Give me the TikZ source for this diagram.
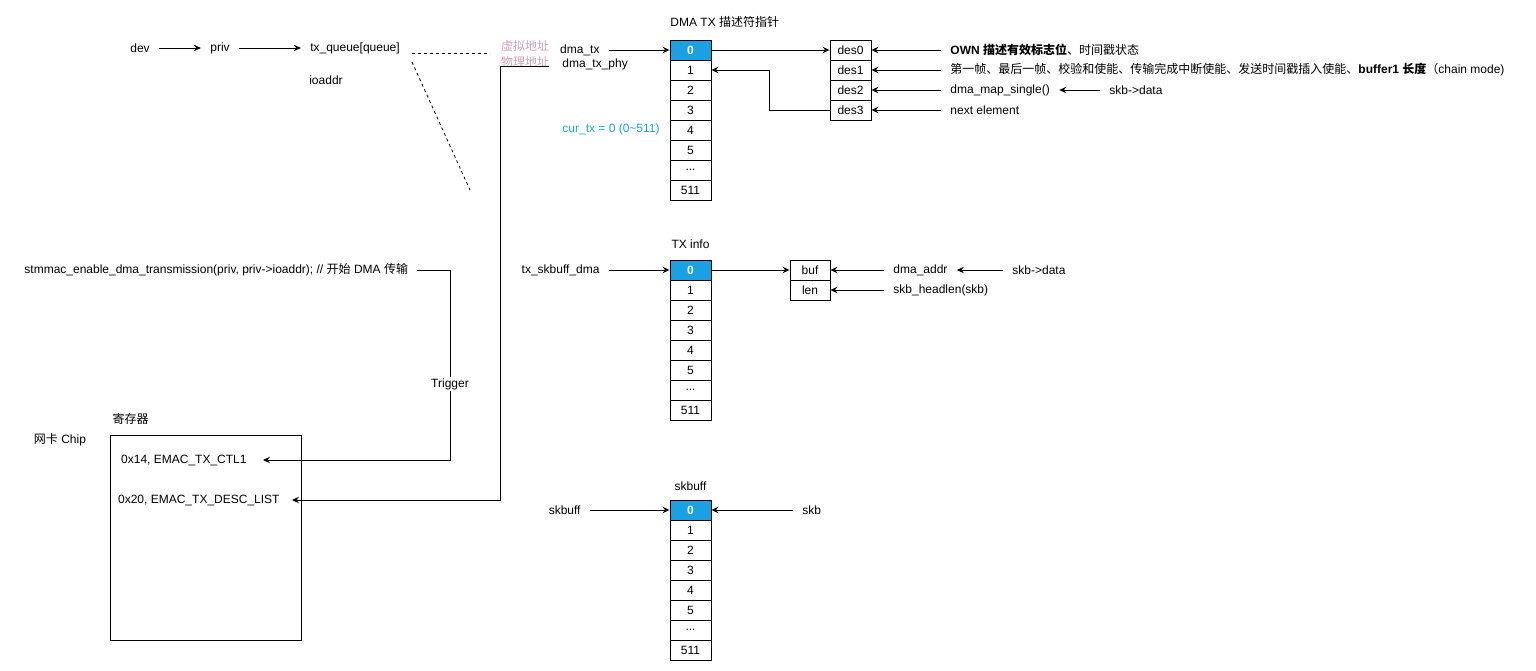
\documentclass[tikz,border=0pt]{standalone}
\usepackage{fontspec}
\setmainfont{Liberation Sans}
\newfontfamily\cjk{Noto Sans CJK SC}
\usepackage{tikz}
\usetikzlibrary{arrows.meta}
\usetikzlibrary{positioning}
\definecolor{tipblue}{HTML}{1BA1E2}
\definecolor{addrpink}{HTML}{CDA2BE}
\newcommand{\zh}[1]{{\cjk #1}}

\begin{document}
\fontsize{12}{14}\selectfont
\begin{tikzpicture}[->,>={Stealth[length=7pt,width=6.5pt,inset=2.5pt]},x=1pt,y=-1pt,node distance=20pt,on grid,line width=0.9pt,
		cell/.style={rectangle,draw=black,minimum width=41pt,minimum height=20pt,inner sep=0pt},
		head/.style={cell,fill=tipblue,text=white,font=\bfseries},
		lbl/.style={inner xsep=9pt,inner ysep=2pt},
		guide/.style={-,dash pattern=on 3pt off 3pt,line width=0.8pt}]
		\useasboundingbox (0,0) rectangle (1536,671);
		
		% pointers from the driver
		\node[lbl]    (dev) at (140,48)              {dev};
		\node[lbl]    (priv)   [right=80pt of dev]   {priv};
		\node[lbl]    (txq)    [right=135pt of priv] {tx\_queue[queue]};
		\node[lbl]    (ioaddr) [below=32pt of txq, xshift=-29pt] {ioaddr};
		\coordinate (gA) at (412,53);
		\coordinate (gB) at (490,53);
		\coordinate (gC) at (412,62);
		\coordinate (gD) at (470,190);
		
		\node[text=addrpink,inner sep=1pt] (virt) at (525,46) {\zh{虚拟地址}};
		\node[text=addrpink,inner sep=1pt] (phys) [below=16pt of virt] {\zh{物理地址}};
		\coordinate (physln) at (549,66);
		
		% DMA TX ring
		\node[anchor=west,inner sep=0pt] (dmattl) at (670,22) {DMA TX \zh{描述符指针}};
		\node[head]  (d0) at (690.5,50)   {0};
		\node[cell]  (d1)   [below=of d0] {1};
		\node[cell]  (d2)   [below=of d1] {2};
		\node[cell]  (d3)   [below=of d2] {3};
		\node[cell]  (d4)   [below=of d3] {4};
		\node[cell]  (d5)   [below=of d4] {5};
		\node[cell]  (ddot) [below=of d5] {...};
		\node[cell]  (dend) [below=of ddot] {511};
		\node[lbl,anchor=east] (dmatx)  at (609,50)  {dma\_tx};
		\node[lbl,anchor=west] (dmaphy) at (553,64)  {dma\_tx\_phy};
		\node[lbl,anchor=west,text=tipblue] (curtx) at (553,129) {cur\_tx = 0 (0\textasciitilde511)};
		
		\node[cell]  (des0) at (850.5,50)      {des0};
		\node[cell]  (des1) [below=of des0]    {des1};
		\node[cell]  (des2) [below=of des1]    {des2};
		\node[cell]  (des3) [below=of des2]    {des3};
		\node[lbl,anchor=west] (own)   at (941,50)  {\textbf{OWN \zh{描述有效标志位}}\zh{、时间戳状态}};
		\node[lbl,anchor=west] (flags) at (941,70)  {\zh{第一帧、最后一帧、校验和使能、传输完成中断使能、发送时间戳插入使能、}\textbf{buffer1 \zh{长度}}\zh{（}chain mode)};
		\node[lbl,anchor=west] (mapsg) at (941,90)  {dma\_map\_single()};
		\node[lbl,anchor=west] (skbd1) at (1100,90) {skb->data};
		\node[lbl,anchor=west] (nxt)   at (941,110) {next element};
		
		% TX info ring
		\node[head]  (t0) at (690.5,270)  {0};
		\node[cell]  (t1)   [below=of t0] {1};
		\node[cell]  (t2)   [below=of t1] {2};
		\node[cell]  (t3)   [below=of t2] {3};
		\node[cell]  (t4)   [below=of t3] {4};
		\node[cell]  (t5)   [below=of t4] {5};
		\node[cell]  (tdot) [below=of t5] {...};
		\node[cell]  (tend) [below=of tdot] {511};
		\node        (tinfo) [above=of t0, yshift=6pt] {TX info};
		\node[lbl,anchor=east] (txsk) at (609,270) {tx\_skbuff\_dma};
		\node[cell,minimum width=40pt] (buf) at (810,270) {buf};
		\node[cell,minimum width=40pt] (len) [below=of buf] {len};
		\node[lbl,anchor=west] (daddr) at (884,270)  {dma\_addr};
		\node[lbl,anchor=west] (hlen)  at (884,290)  {skb\_headlen(skb)};
		\node[lbl,anchor=west] (skbd2) at (1003,270) {skb->data};
		
		% skbuff ring
		\node[head]  (s0) at (690.5,510)  {0};
		\node[cell]  (s1)   [below=of s0] {1};
		\node[cell]  (s2)   [below=of s1] {2};
		\node[cell]  (s3)   [below=of s2] {3};
		\node[cell]  (s4)   [below=of s3] {4};
		\node[cell]  (s5)   [below=of s4] {5};
		\node[cell]  (sdot) [below=of s5] {...};
		\node[cell]  (send) [below=of sdot] {511};
		\node        (sbttl) [above=of s0, yshift=4pt] {skbuff};
		\node[lbl,anchor=east] (sbl) at (590,510) {skbuff};
		\node[lbl,anchor=west] (skb) at (793,510) {skb};
		
		% chip registers
		\node[lbl,anchor=west] (stm) at (15,270) {stmmac\_enable\_dma\_transmission(priv, priv->ioaddr); // \zh{开始} DMA \zh{传输}};
		\node[draw,rectangle,minimum width=191pt,minimum height=205pt] (regs) at (205.5,537.5) {};
		\node (regttl) at (130.5,419) {\zh{寄存器}};
		\node (chip)   at (60,440)    {\zh{网卡} Chip};
		\node[anchor=east,inner xsep=16pt] (ctl)  at (263,460) {0x14, EMAC\_TX\_CTL1};
		\node[anchor=east,inner xsep=12pt] (desc) at (292,500) {0x20, EMAC\_TX\_DESC\_LIST};
		\coordinate (trig)  at (450,460);
		\coordinate (trunk) at (500,500);
		
		\path[->]
		(dev) edge (priv)
		(priv) edge (txq)
		(dmatx) edge (d0)
		(d0) edge (des0)
		(own) edge (des0)
		(flags) edge (des1)
		(mapsg) edge (des2)
		(skbd1) edge (mapsg)
		(nxt) edge (des3)
		(txsk) edge (t0)
		(t0) edge (buf)
		(daddr) edge (buf)
		(hlen) edge (len)
		(skbd2) edge (daddr)
		(sbl) edge (s0)
		(skb) edge (s0);
		
		\draw (des3.west) -- ++(-60,0) |- (d1.east);
		\draw (stm.east) -| node[pos=0.8,fill=white,inner sep=1pt]{Trigger} (trig) -- (ctl.east);
		\draw (physln) -| (trunk) -- (desc.east);
		\draw[guide] (gA) -- (gB);
		\draw[guide] (gC) -- (gD);
\end{tikzpicture}
\end{document}
